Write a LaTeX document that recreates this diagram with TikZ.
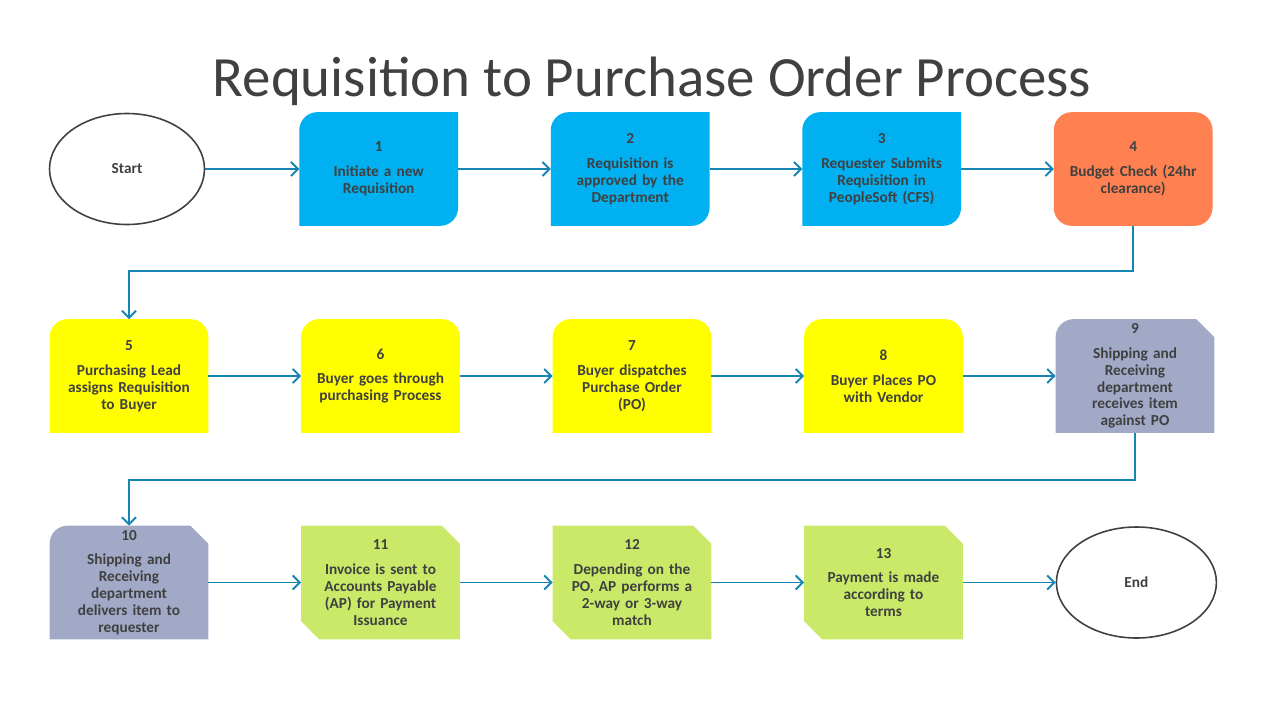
\documentclass[tikz,border=0pt]{standalone}
\usepackage{fontspec}
\setmainfont{Carlito}
\usepackage{xcolor}
\usepackage{tikz}
\usetikzlibrary{positioning, arrows.meta, shapes.geometric, calc, backgrounds}

\definecolor{cblue}{RGB}{0,176,240}
\definecolor{corange}{RGB}{255,128,80}
\definecolor{cyellow}{RGB}{255,255,0}
\definecolor{cgrey}{RGB}{161,169,199}
\definecolor{cgreen}{RGB}{202,233,104}
\definecolor{cflow}{RGB}{22,133,180}
\definecolor{ctext}{RGB}{64,64,64}

\begin{document}
\begin{tikzpicture}[
		>={Straight Barb[length=4pt, width=8pt]}, % offene Pfeilspitzen
		node distance=1.855cm,
		every node/.style={font=\fontsize{8.7}{9.6}\selectfont\bfseries, text=ctext},
		proc/.style={
			minimum width=3.16cm,
			minimum height=2.26cm,
			text width=2.95cm,
			inner xsep=3pt,
			inner ysep=0pt,
			align=center},
		term/.style={
			draw=ctext,
			ellipse,
			line width=0.9pt,
			minimum width=3.1cm,
			minimum height=2.22cm},
		flow/.style={->, draw=cflow, line width=1.1pt}
		]
		\useasboundingbox (0,0) rectangle (25.6,-14.4);
		
		% Titel
		\node[font=\fontsize{32.4}{36}\selectfont, text=ctext] (title) at (13.04,-1.62)
			{Requisition to Purchase Order Process};
		
		% 0. Start
		\node[term] (s0) at (2.54,-3.38) {Start};
		
		% 1. Zeile
		\node[proc] (b1) [right=1.88cm of s0] {1\\[4.5pt] Initiate a new\\ Requisition};
		\node[proc] (b2) [right=of b1] {2\\[4.5pt] Requisition is\\ approved by the\\ Department};
		\node[proc] (b3) [right=of b2] {3\\[4.5pt] Requester Submits\\ Requisition in\\ PeopleSoft (CFS)};
		\node[proc] (b4) [right=of b3] {4\\[4.5pt] Budget Check (24hr\\ clearance)};
		
		% 2. Zeile
		\node[proc] (b5) at (2.58,-7.52) {5\\[4.5pt] Purchasing Lead\\ assigns Requisition\\ to Buyer};
		\node[proc] (b6) [right=of b5] {6\\[4.5pt] Buyer goes through\\ purchasing Process};
		\node[proc] (b7) [right=of b6] {7\\[4.5pt] Buyer dispatches\\ Purchase Order\\ (PO)};
		\node[proc] (b8) [right=of b7] {8\\[4.5pt] Buyer Places PO\\ with Vendor};
		\node[proc] (b9) [right=of b8] {9\\[4.5pt] Shipping and\\ Receiving\\ department\\ receives item\\ against PO};
		
		% 3. Zeile
		\node[proc] (b10) at (2.58,-11.65) {10\\[4.5pt] Shipping and\\ Receiving\\ department\\ delivers item to\\ requester};
		\node[proc] (b11) [right=of b10] {11\\[4.5pt] Invoice is sent to\\ Accounts Payable\\ (AP) for Payment\\ Issuance};
		\node[proc] (b12) [right=of b11] {12\\[4.5pt] Depending on the\\ PO, AP performs a\\ 2-way or 3-way\\ match};
		\node[proc] (b13) [right=of b12] {13\\[4.5pt] Payment is made\\ according to\\ terms};
		\node[term, minimum width=3.2cm] (s14) [right=of b13] {End};
		
		% Flaechen der Kaesten
		\def\rr{0.36cm}
		\begin{scope}[on background layer]
			\foreach \n in {b1,b2,b3}
				\fill[cblue] ([yshift=-\rr]\n.north west) arc[start angle=180, end angle=90, radius=\rr]
					-- (\n.north east) -- ([yshift=\rr]\n.south east)
					arc[start angle=0, end angle=-90, radius=\rr] -- (\n.south west) -- cycle;
			\fill[corange, rounded corners=\rr] (b4.north west) rectangle (b4.south east);
			\foreach \n in {b5,b6,b7,b8}
				\fill[cyellow] (\n.south west) -- ([yshift=-\rr]\n.north west)
					arc[start angle=180, end angle=90, radius=\rr] -- ([xshift=-\rr]\n.north east)
					arc[start angle=90, end angle=0, radius=\rr] -- (\n.south east) -- cycle;
			\foreach \n in {b9,b10}
				\fill[cgrey] (\n.south west) -- ([yshift=-\rr]\n.north west)
					arc[start angle=180, end angle=90, radius=\rr] -- ([xshift=-\rr]\n.north east)
					-- ([yshift=-\rr]\n.north east) -- (\n.south east) -- cycle;
			\foreach \n in {b11,b12,b13}
				\fill[cgreen] (\n.north west) -- ([xshift=-\rr]\n.north east)
					-- ([yshift=-\rr]\n.north east) -- (\n.south east)
					-- ([xshift=\rr]\n.south west) -- ([yshift=\rr]\n.south west) -- cycle;
		\end{scope}
		
		% Transitionen
		\draw[flow] (s0) -- (b1);
		\draw[flow] (b1) -- (b2);
		\draw[flow] (b2) -- (b3);
		\draw[flow] (b3) -- (b4);
		\draw[flow] (b4.south) -- ([yshift=-0.9cm]b4.south) -| (b5.north);
		\draw[flow] (b5) -- (b6);
		\draw[flow] (b6) -- (b7);
		\draw[flow] (b7) -- (b8);
		\draw[flow] (b8) -- (b9);
		\draw[flow] (b9.south) -- ([yshift=-0.94cm]b9.south) -| (b10.north);
		\draw[flow] (b10) -- (b11);
		\draw[flow] (b11) -- (b12);
		\draw[flow] (b12) -- (b13);
		\draw[flow] (b13) -- (s14);
		
	\end{tikzpicture}
\end{document}
